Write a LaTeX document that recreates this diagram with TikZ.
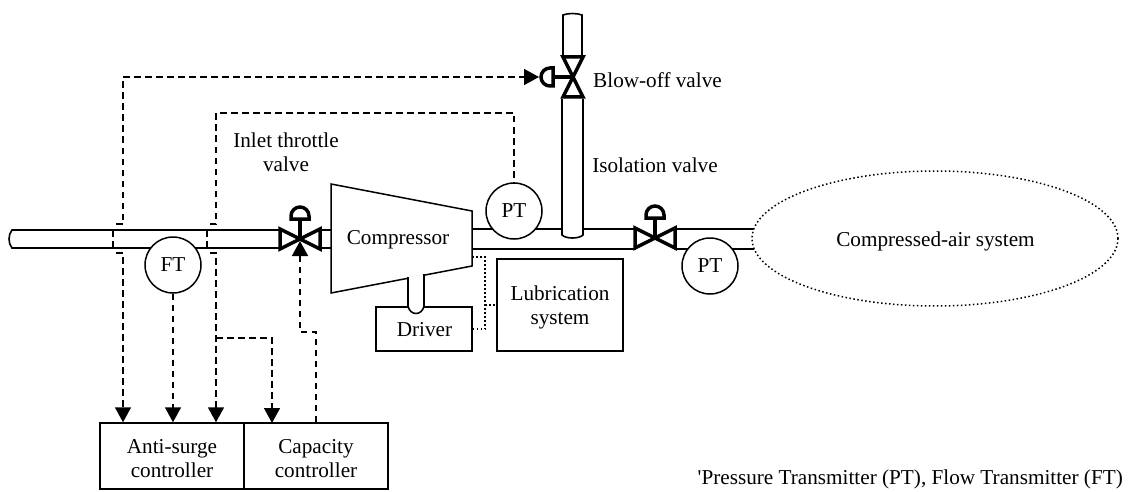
\documentclass[tikz,border=0pt]{standalone}
\usepackage{fontspec}
\setmainfont{Liberation Serif}
\usetikzlibrary{arrows.meta,shapes.geometric}
\tikzset{
  every node/.style={font=\fontsize{21.2}{24.5}\selectfont, align=center},
  pipe/.style={line width=1.6pt},
  box/.style={draw, line width=1.5pt, fill=white, inner sep=0pt},
  transmitter/.style={box, circle, minimum size=56pt},
  signal/.style={line width=1.6pt, dash pattern=on 6.5pt off 4.5pt},
  tip/.style={-{Triangle[width=16pt,length=15pt]}},
  oil/.style={line width=1.5pt, dash pattern=on 1.5pt off 2.5pt},
  ctlvalve/.pic={
    \draw[line width=3.5pt, line join=miter, fill=white] (-20,-10) -- (20,10) -- (20,-10) -- (-20,10) -- cycle;
    \draw[line width=3.5pt] (0,0) -- (0,-20);
    \draw[line width=3.5pt, fill=white] (-9,-20) -- (9,-20) -- (9,-23) arc (0:-180:9) -- cycle;
  }
}
\begin{document}
\begin{tikzpicture}[x=1pt, y=-1pt]
  \useasboundingbox (0,0) rectangle (1129,492);
  \draw[pipe] (280,230) -- (12,230) .. controls (8,235) and (8,243) .. (12,248) -- (280,248);
  \draw[pipe] (322,230) -- (335,230) (322,248) -- (335,248);
  \draw[pipe] (470,229) -- (636,229) (470,249) -- (636,249);
  \draw[pipe] (676,229) -- (756,229) (676,249) -- (756,249);
  \draw[pipe, fill=white] (562,99) -- (562,235) .. controls (566,239) and (579,239) .. (583,235) -- (583,99);
  \draw[pipe] (563,56) -- (563,15) .. controls (568,13) and (577,13) .. (582,15) -- (582,56);
  \node[draw, oil, ellipse, fill=white, minimum width=366pt, minimum height=135pt, inner sep=0pt] (air) at (935,238.5) {};
  \node (airtext) at (935.5,241.5) {Compressed-air system};
  \draw[box] (331,184) -- (472,211) -- (472,266) -- (331,293) -- cycle;
  \node (comp) at (398,240) {Compressor};
  \node[box, minimum width=96pt, minimum height=44pt] (driver) at (424,329) {};
  \node (drivertext) at (424.5,329.5) {Driver};
  \draw[pipe, fill=white] (408,277) -- (408,306) .. controls (410,316) and (422,316) .. (424,306) -- (424,274);
  \node[box, minimum width=126pt, minimum height=92pt] (lube) at (560,305) {};
  \node (lubetext) at (560,307.5) {Lubrication\\system};
  \node[box, minimum width=144pt, minimum height=66pt] (asc) at (172,456) {};
  \node[right of=asc, node distance=144pt, box, minimum width=144pt, minimum height=66pt] (cap) {};
  \node (asctext) at (172,458.5) {Anti-surge\\controller};
  \node (captext) at (316,458.5) {Capacity\\controller};
  \node[transmitter] (ft) at (173,265) {FT};
  \node[transmitter] (pt1) at (514,211) {PT};
  \node[transmitter] (pt2) at (710,266) {PT};
  \pic at (300,239) {ctlvalve};
  \pic at (655,238) {ctlvalve};
  \pic[rotate=90] at (573,77) {ctlvalve};
  \coordinate (blowoff) at (539,77);
  \coordinate (a1) at (116,224);
  \coordinate (a2) at (123,224);
  \coordinate (a3) at (116,253);
  \coordinate (a4) at (123,253);
  \coordinate (b1) at (210,224);
  \coordinate (b2) at (216,224);
  \coordinate (b3) at (210,253);
  \coordinate (b4) at (216,253);
  \coordinate (br) at (216,338);
  \draw[signal, tip] (a1) -- (a2) -- (a2 |- blowoff) -- (blowoff);
  \draw[signal] (113,230) -- (113,250);
  \draw[signal, tip] (a3) -- (a4) -- (a4 |- asc.north);
  \draw[signal] (b1) -- (b2) -- (216,113) -- (514,113) -- (pt1.north);
  \draw[signal] (207,230) -- (207,250);
  \draw[signal, tip] (b3) -- (b4) -- (b4 |- asc.north);
  \draw[signal, tip] (ft.south) -- (ft.south |- asc.north);
  \draw[signal, tip] (br) -- (272,338) -- (272,423);
  \draw[signal, tip] (cap.north) -- (316,332) -- (300,332) -- (300,241);
  \draw[oil] (472,257) -- (485,257) -- (485,329) -- (driver.east);
  \draw[oil] (485,305) -- (lube.west);
  \node (blowtext) at (657.5,80) {Blow-off valve};
  \node (isotext) at (655,165) {Isolation valve};
  \node (inlettext) at (286,152) {Inlet throttle\\valve};
  \node[anchor=east, inner sep=0pt] (note) at (1123,479) {\textquotesingle Pressure Transmitter (PT), Flow Transmitter (FT)};
\end{tikzpicture}
\end{document}
